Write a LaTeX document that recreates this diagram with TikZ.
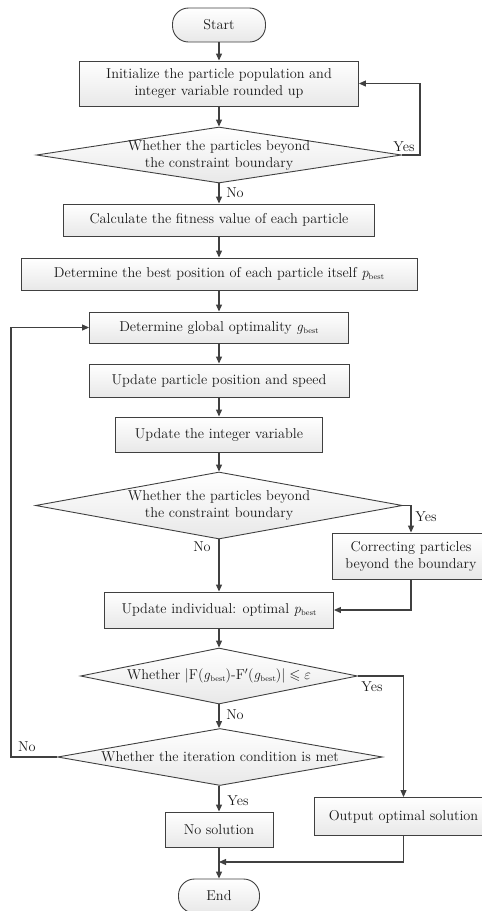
\documentclass[tikz,border=0pt]{standalone}
\usepackage{amssymb}
\usetikzlibrary{arrows.meta,shapes.geometric,calc}
\definecolor{ln}{HTML}{404040}
\newcommand\bst{\raisebox{-0.35ex}{\fontsize{8}{8}\selectfont best}}
\begin{document}
\begin{tikzpicture}[x=1pt,y=-1pt,
  every node/.style={font=\fontsize{14.3}{17}\selectfont, text=black!90},
  base/.style={draw=ln, line width=0.9pt, top color=white, bottom color=black!9, inner sep=0pt, align=center},
  box/.style={base, rectangle},
  term/.style={base, rectangle, rounded corners=16pt},
  dia/.style={base, diamond},
  dtext/.style={align=center, inner sep=0pt},
  arr/.style={draw=ln, line width=1.1pt, -{Triangle[length=7pt,width=6pt]}},
  lab/.style={inner sep=0pt}
]
\useasboundingbox (0,0) rectangle (482,911);
\clip (0,0) rectangle (482,911);

\node[term, minimum width=93, minimum height=34] (start) at (219,25) {Start};
\node[box, minimum width=279, minimum height=45] (init) at (219,83.5) {Initialize the particle population and\\integer variable rounded up};
\node[dia, minimum width=365, minimum height=56] (d1) at (219,155) {};
\node[dtext] (d1t) at (d1) {Whether the particles beyond\\the constraint boundary};
\node[box, minimum width=311, minimum height=32] (calc) at (219,220) {Calculate the fitness value of each particle};
\node[box, minimum width=396, minimum height=32] (pb) at (219,274) {Determine the best position of each particle itself \textit{p}\bst};
\node[box, minimum width=259, minimum height=31] (gb) at (219,327.5) {Determine global optimality \textit{g}\bst};
\node[box, minimum width=260, minimum height=33] (ups) at (219,380.5) {Update particle position and speed};
\node[box, minimum width=207, minimum height=35] (upi) at (219,434.5) {Update the integer variable};
\node[dia, minimum width=367, minimum height=67] (d2) at (219,505.5) {};
\node[dtext] (d2t) at (d2) {Whether the particles beyond\\the constraint boundary};
\node[box, minimum width=158, minimum height=46] (cor) at (411,556) {Correcting particles\\beyond the boundary};
\node[box, minimum width=229, minimum height=36] (upd) at (219,610) {Update individual: optimal \textit{p}\bst};
\node[dia, minimum width=277, minimum height=56] (d3) at (219,676) {};
\node[dtext] (d3t) at (d3) {Whether $|$F(\textit{g}\bst)-F$'$(\textit{g}\bst)$|\leqslant\varepsilon$};
\node[dia, minimum width=325, minimum height=57] (d4) at (220,757) {};
\node[dtext] (d4t) at (d4) {Whether the iteration condition is met};
\node[box, minimum width=108, minimum height=35] (nos) at (219,829.5) {No solution};
\node[box, minimum width=179, minimum height=38] (out) at (403.5,816.5) {Output optimal solution};
\node[term, minimum width=81, minimum height=34] (end) at (219,896) {End};

\coordinate (yl) at (420,155);
\coordinate (nl) at (11,757);
\coordinate (m) at (219,862);

\draw[arr] (start.south) -- (init.north);
\draw[arr] (init.south) -- (d1.north);
\draw[arr] (d1.east) -- (yl) |- (init.east);
\draw[arr] (d1.south) -- (calc.north);
\draw[arr] (calc.south) -- (pb.north);
\draw[arr] (pb.south) -- (gb.north);
\draw[arr] (gb.south) -- (ups.north);
\draw[arr] (ups.south) -- (upi.north);
\draw[arr] (upi.south) -- (d2.north);
\draw[arr] (d2.south) -- (upd.north);
\draw[arr] (d2.east) -| (cor.north);
\draw[arr] (cor.south) |- (upd.east);
\draw[arr] (upd.south) -- (d3.north);
\draw[arr] (d3.east) -| (out.north);
\draw[arr] (d3.south) -- (d4.north -| d3.south);
\draw[arr] (d4.west) -- (nl) |- (gb.west);
\draw[arr] (d4.south -| nos.north) -- (nos.north);
\draw[arr] (nos.south) -- (end.north);
\draw[arr] (out.south) |- (m);

\node[lab] (y1) at (404,147) {Yes};
\node[lab] (n1) at (235,193) {No};
\node[lab] (n2) at (202,547) {No};
\node[lab] (y2) at (426,517) {Yes};
\node[lab] (y3) at (372,687) {Yes};
\node[lab] (n3) at (235,715) {No};
\node[lab] (n4) at (27,747) {No};
\node[lab] (y4) at (238,801) {Yes};
\end{tikzpicture}
\end{document}
